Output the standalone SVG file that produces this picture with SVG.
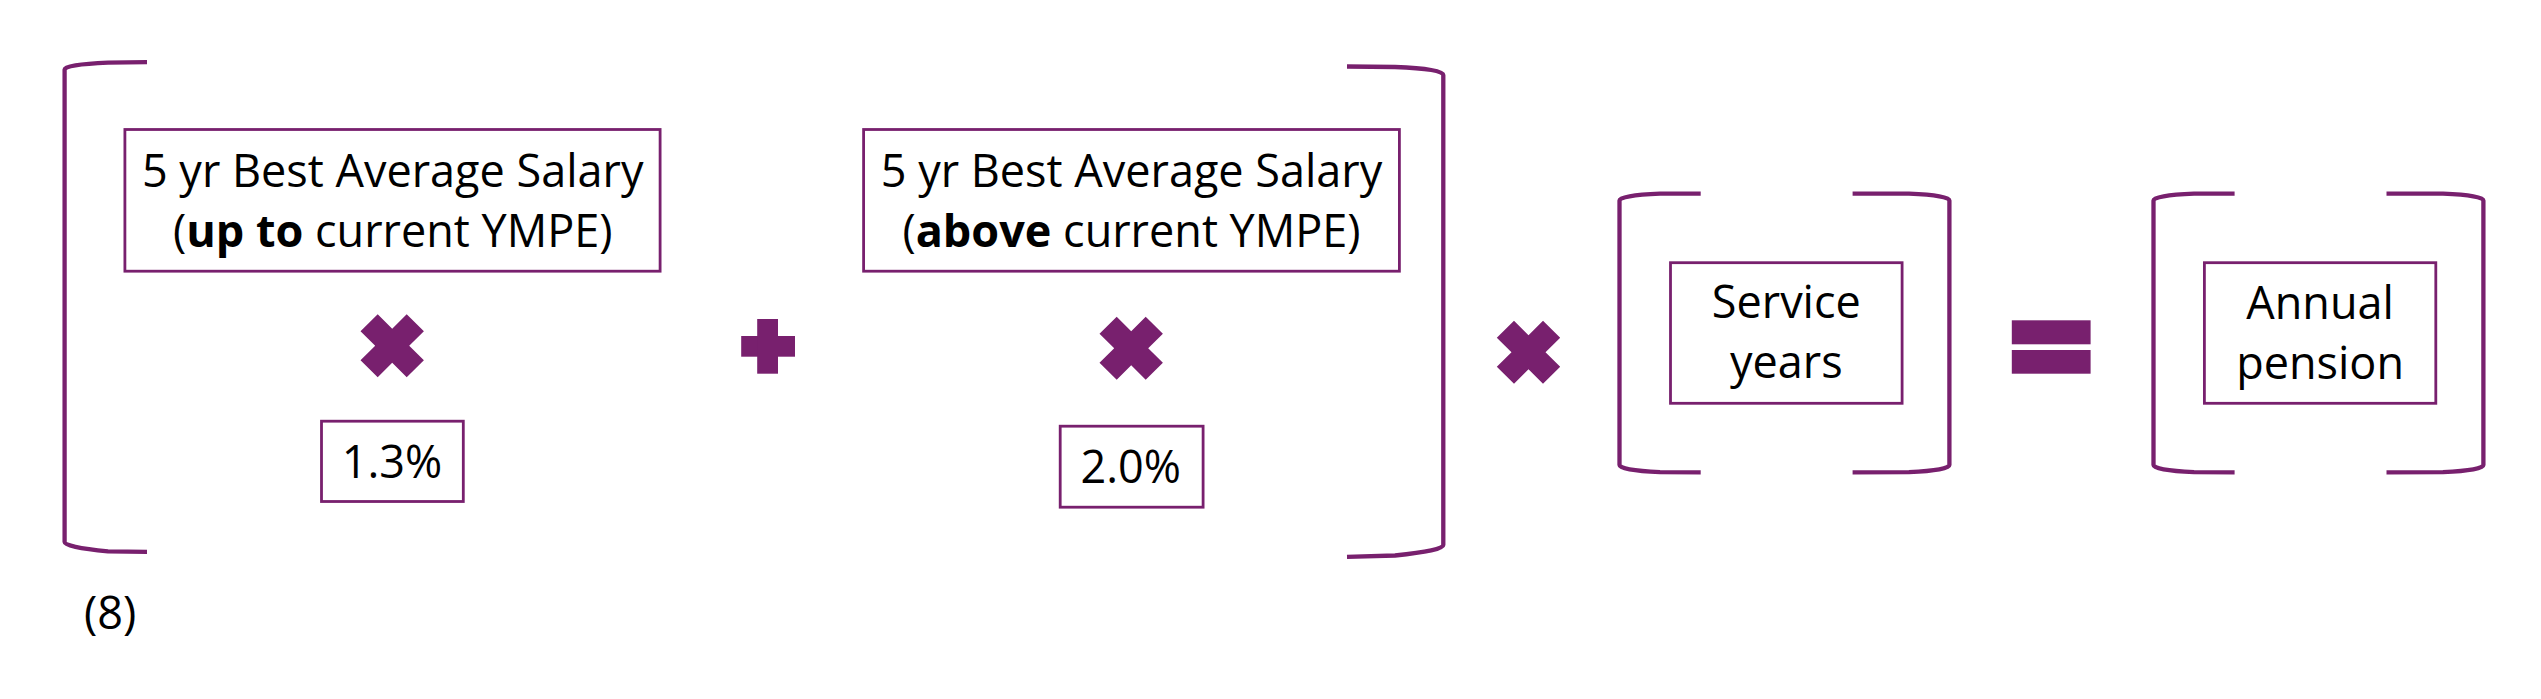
<svg xmlns="http://www.w3.org/2000/svg" width="2541" height="699" viewBox="0 0 2541 699">
<style>
.box{fill:#fff;stroke:#78206E;stroke-width:2.8}
.br{fill:none;stroke:#78206E;stroke-width:4.3;stroke-linejoin:round}
.op{fill:#78206E}
.t{font-family:"Open Sans","Noto Sans",sans-serif;font-size:45px;fill:#000;text-anchor:middle}
.b{font-weight:bold}
</style>
<defs>
<polygon id="times" points="-14.5,-31.5 0,-17 14.5,-31.5 31.7,-14.5 17,0 31.7,14.5 14.5,31.5 0,17 -14.5,31.5 -31.7,14.5 -17,0 -31.7,-14.5"/>
</defs>
<rect width="2541" height="699" fill="#fff"/>
<g id="brackets">
<path class="br" d="M147 62.2 L108 62.6 Q64.6 64.5 64.6 69.5 L64.6 542 Q64.6 547 108 551.4 L147 551.8"/>
<path class="br" d="M1347 66.5 L1395 67 Q1443.3 69 1443.3 75 L1443.3 545 Q1443.3 550.5 1395 555.5 L1347 556.8"/>
<path class="br" d="M1700.7 193.7 L1660 193.7 Q1619.5 195.5 1619.5 200.5 L1619.5 465 Q1619.5 470 1660 472.2 L1700.7 472.3"/>
<path class="br" d="M1852.6 193.7 L1909 193.7 Q1949.4 195.5 1949.4 200.5 L1949.4 465 Q1949.4 470 1909 472.2 L1852.6 472.3"/>
<path class="br" d="M2234.6 193.7 L2194 193.7 Q2153.5 195.5 2153.5 200.5 L2153.5 465 Q2153.5 470 2194 472.2 L2234.6 472.3"/>
<path class="br" d="M2386.5 193.7 L2443 193.7 Q2483.4 195.5 2483.4 200.5 L2483.4 465 Q2483.4 470 2443 472.2 L2386.5 472.3"/>
</g>
<g id="salary-up-to">
<rect class="box" x="124.9" y="129.5" width="535.2" height="141.7"/>
<text class="t" x="392.7" y="186.7">5 yr Best Average Salary</text>
<text class="t" x="392.7" y="246.7">(<tspan class="b">up to</tspan> current YMPE)</text>
</g>
<g id="times-1"><use href="#times" class="op" x="392.2" y="345.7"/></g>
<g id="rate-1">
<rect class="box" x="321.5" y="421.2" width="141.8" height="80.3"/>
<text class="t" x="392" y="477.7">1.3%</text>
</g>
<g id="plus"><rect class="op" x="741.2" y="336" width="53.8" height="20.7"/><rect class="op" x="757.2" y="319" width="20.8" height="54.7"/></g>
<g id="salary-above">
<rect class="box" x="863.6" y="129.5" width="535.8" height="141.7"/>
<text class="t" x="1131.5" y="186.7">5 yr Best Average Salary</text>
<text class="t" x="1131.5" y="246.7">(<tspan class="b">above</tspan> current YMPE)</text>
</g>
<g id="times-2"><use href="#times" class="op" x="1131.2" y="348.3"/></g>
<g id="rate-2">
<rect class="box" x="1060.2" y="426.2" width="142.9" height="81"/>
<text class="t" x="1130.8" y="482.7">2.0%</text>
</g>
<g id="times-3"><use href="#times" class="op" x="1528.5" y="352.3"/></g>
<g id="service-years">
<rect class="box" x="1670.5" y="262.7" width="231.6" height="140.6"/>
<text class="t" x="1786.3" y="318.3">Service</text>
<text class="t" x="1786.3" y="378.3">years</text>
</g>
<g id="equals"><rect class="op" x="2011.8" y="320.3" width="78.8" height="24"/><rect class="op" x="2011.8" y="350" width="78.8" height="23.7"/></g>
<g id="annual-pension">
<rect class="box" x="2204.4" y="262.7" width="231.4" height="140.6"/>
<text class="t" x="2320.1" y="319">Annual</text>
<text class="t" x="2320.1" y="379">pension</text>
</g>
<g id="label-8"><text class="t" x="84" y="629.3" style="text-anchor:start">(8)</text></g>
</svg>
